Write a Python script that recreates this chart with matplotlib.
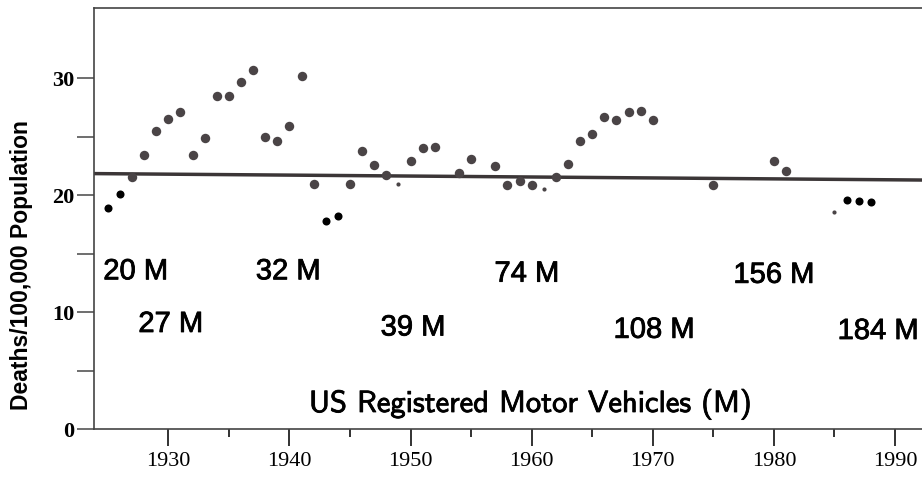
import numpy as np
import matplotlib
matplotlib.use("Agg")
import matplotlib.pyplot as plt
import matplotlib.patheffects as pe

# traffic deaths per 100,000 population
gray_years = [1927, 1928, 1929, 1930, 1931, 1932, 1933, 1934, 1935, 1936, 1937,
              1938, 1939, 1940, 1941, 1942, 1945, 1946, 1947, 1948, 1950, 1951,
              1952, 1954, 1955, 1957, 1958, 1959, 1960, 1962, 1963, 1964, 1965,
              1966, 1967, 1968, 1969, 1970, 1975, 1980, 1981]
gray_deaths = [21.6, 23.4, 25.5, 26.5, 27.1, 23.4, 24.9, 28.5, 28.5, 29.7, 30.7,
               25.0, 24.6, 25.9, 30.2, 21.0, 21.0, 23.8, 22.6, 21.7, 22.9, 24.0,
               24.1, 21.9, 23.1, 22.5, 20.9, 21.2, 20.9, 21.6, 22.7, 24.6, 25.2,
               26.7, 26.4, 27.1, 27.2, 26.4, 20.9, 22.9, 22.1]
black_years = [1925, 1926, 1943, 1944, 1986, 1987, 1988]
black_deaths = [18.9, 20.1, 17.8, 18.2, 19.6, 19.5, 19.4]
faint_years = [1949, 1961, 1985]
faint_deaths = [21.0, 20.5, 18.6]

# reference level (scan is slightly tilted)
ref_x = [1923.86, 1992.23]
ref_y = [21.85, 21.3]

# registered vehicles annotations
veh_labels = ['20 M', '27 M', '32 M', '39 M', '74 M', '108 M', '156 M', '184 M']
veh_x = [1927.3, 1930.2, 1939.9, 1950.2, 1959.6, 1970.1, 1980.0, 1988.6]
veh_y = [13.5, 9.0, 13.5, 8.7, 13.3, 8.5, 13.2, 8.4]

fig = plt.figure(figsize=(9.22, 4.8), dpi=100, facecolor='white')
ax = fig.add_axes([94/922, 1 - 429.3/480, 828/922, 421.3/480])

ax.plot(ref_x, ref_y, color='#3b3637', lw=2.5, solid_capstyle='butt', zorder=2)
ax.plot(gray_years, gray_deaths, 'o', color='#4a4446', ms=6.8, mew=0, zorder=3)
ax.plot(black_years, black_deaths, 'o', color='black', ms=5.8, mew=0, zorder=3)
ax.plot(faint_years, faint_deaths, 'o', color='#4a4446', ms=3, mew=0, zorder=3)

heavy = [pe.withStroke(linewidth=0.6, foreground='black')]
for lab, x, y in zip(veh_labels, veh_x, veh_y):
    ax.text(x, y, lab, ha='center', va='center', fontsize=21,
            family='Liberation Sans', color='black', path_effects=heavy)

ax.text(1959.9, 2.1, 'US Registered Motor Vehicles (M)', ha='center', va='center',
        fontsize=22, family='cmss10', color='black', path_effects=heavy)

ax.set_xlim(1923.86, 1992.23)
ax.set_ylim(0, 36.0)

ax.set_xticks([1930, 1940, 1950, 1960, 1970, 1980, 1990])
ax.set_xticks([1935, 1945, 1955, 1965, 1975, 1985], minor=True)
ax.set_yticks([0, 10, 20, 30])
ax.set_yticks([5, 15, 25], minor=True)
ax.set_yticklabels(['0', '10', '20', '30'], family='Liberation Serif',
                   fontweight='bold', fontsize=16)
ax.set_xticklabels(['1930', '1940', '1950', '1960', '1970', '1980', '1990'],
                   family='Liberation Serif', fontsize=16)

ax.tick_params(axis='x', which='major', direction='out', length=12, width=1.3,
               color='#222222', pad=4)
ax.tick_params(axis='x', which='minor', direction='out', length=6, width=1.3,
               color='#222222')
ax.tick_params(axis='y', which='both', direction='out', length=12, width=1.2,
               color='#555555', pad=2)

ax.spines['right'].set_visible(False)
for s in ['left', 'top', 'bottom']:
    ax.spines[s].set_color('#444444')
    ax.spines[s].set_linewidth(1.2)

fig.text(22/922, 1 - 265/480, 'Deaths/100,000 Population', rotation=90,
         ha='center', va='center', fontsize=16.5, fontweight='bold',
         family='Liberation Sans')

fig.savefig('out.png', dpi=100, facecolor='white')
